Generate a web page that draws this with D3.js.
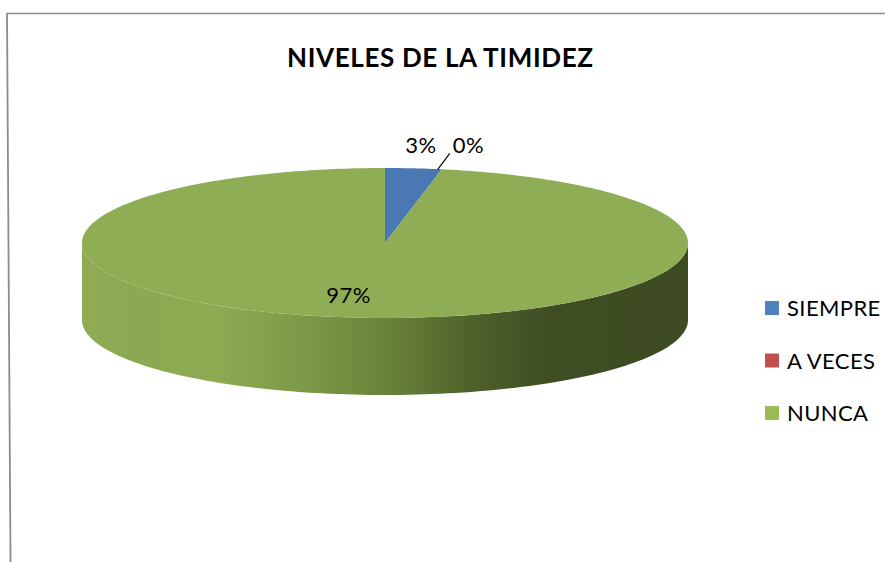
<!DOCTYPE html>
<html><head><meta charset="utf-8">
<script src="https://cdn.jsdelivr.net/npm/d3@7"></script>
<style>body{margin:0;background:#fff;}svg{display:block;}</style>
</head><body>
<svg id="c" width="885" height="562"></svg>
<script>
const title = "NIVELES DE LA TIMIDEZ";
const categories = ["SIEMPRE", "A VECES", "NUNCA"];
const values = [3, 0, 97];
const labels = ["3%", "0%", "97%"];
const colors = ["#4f81bd", "#c0504d", "#9bbb59"];
const topColors = ["#4a78b3", "#c0504d", "#8fad55"];

const svg = d3.select("#c");
const font = "Lato, 'Open Sans', 'Liberation Sans', sans-serif";

// border
svg.append("line").attr("x1", 7).attr("y1", 13.5).attr("x2", 885).attr("y2", 13.5)
  .attr("stroke", "#8c8c8c").attr("stroke-width", 1.5);
svg.append("line").attr("x1", 7).attr("y1", 13).attr("x2", 10.5).attr("y2", 562)
  .attr("stroke", "#8c8c8c").attr("stroke-width", 1.8);

svg.append("text").attr("x", 287).attr("y", 67)
  .attr("font-family", font).attr("font-weight", "bold").attr("font-size", 26)
  .attr("textLength", 306).attr("lengthAdjust", "spacing")
  .attr("fill", "#000").text(title);

const cx = 385, cy = 243, rx = 303, ry = 75, depth = 77;
const pie = d3.pie().sort(null).value(d => d)(values);

const pt = (a, f = 1) => [cx + rx * f * Math.sin(a), cy - ry * f * Math.cos(a)];

const defs = svg.append("defs");
const g = defs.append("linearGradient").attr("id", "side").attr("gradientUnits", "userSpaceOnUse")
  .attr("x1", cx - rx).attr("x2", cx + rx).attr("y1", 0).attr("y2", 0);
[[0, "#8fac55"], [0.08, "#8ba852"], [0.22, "#8dab53"], [0.38, "#7b9746"], [0.52, "#667f38"], [0.65, "#4d5f2a"], [0.78, "#3f4d23"], [1, "#3e4b22"]]
  .forEach(([o, c]) => g.append("stop").attr("offset", o).attr("stop-color", c));

// side walls (front half: angles PI/2 .. 3PI/2)
pie.forEach((s, i) => {
  const a0 = Math.max(s.startAngle, Math.PI / 2), a1 = Math.min(s.endAngle, 3 * Math.PI / 2);
  if (a1 <= a0) return;
  const n = 120;
  const top = d3.range(n + 1).map(k => pt(a0 + (a1 - a0) * k / n));
  const bot = top.slice().reverse().map(p => [p[0], p[1] + depth]);
  svg.append("path").attr("d", d3.line()(top.concat(bot)) + "Z")
    .attr("fill", "url(#side)");
});

// top faces
pie.forEach((s, i) => {
  if (s.endAngle - s.startAngle <= 0) return;
  const n = Math.max(2, Math.ceil((s.endAngle - s.startAngle) * 60));
  const arc = d3.range(n + 1).map(k => pt(s.startAngle + (s.endAngle - s.startAngle) * k / n));
  svg.append("path").attr("d", d3.line()([[cx, cy]].concat(arc)) + "Z")
    .attr("fill", topColors[i]);
});

// data labels
const lbl = (x, y, t, anchor = "middle") => svg.append("text").attr("x", x).attr("y", y).attr("text-anchor", anchor)
  .attr("font-family", font).attr("font-size", 22).attr("letter-spacing", 0.5).attr("fill", "#000").text(t);
{
  const s = pie[0], m = (s.startAngle + s.endAngle) / 2, p = pt(m);
  lbl(p[0] + 7.5, p[1] - 15, labels[0]);
}
{
  const s = pie[1], p = pt(s.startAngle);
  const q = [p[0] + 8, p[1] - 16];
  svg.append("line").attr("x1", p[0] - 4).attr("y1", p[1]).attr("x2", q[0]).attr("y2", q[1])
    .attr("stroke", "#000").attr("stroke-width", 1.2);
  lbl(q[0] + 3, q[1], labels[1], "start");
}
{
  const s = pie[2], m = (s.startAngle + s.endAngle) / 2, p = pt(m, 0.72);
  lbl(p[0] - 16, p[1] + 6, labels[2]);
}

// legend
categories.forEach((c, i) => {
  const y = 316 + i * 52.5;
  svg.append("rect").attr("x", 765).attr("y", y - 15).attr("width", 14).attr("height", 14).attr("fill", colors[i]);
  svg.append("text").attr("x", 787).attr("y", y).attr("font-family", font).attr("font-size", 22)
    .attr("letter-spacing", 0.4).attr("fill", "#000").text(c);
});
</script>
</body></html>
